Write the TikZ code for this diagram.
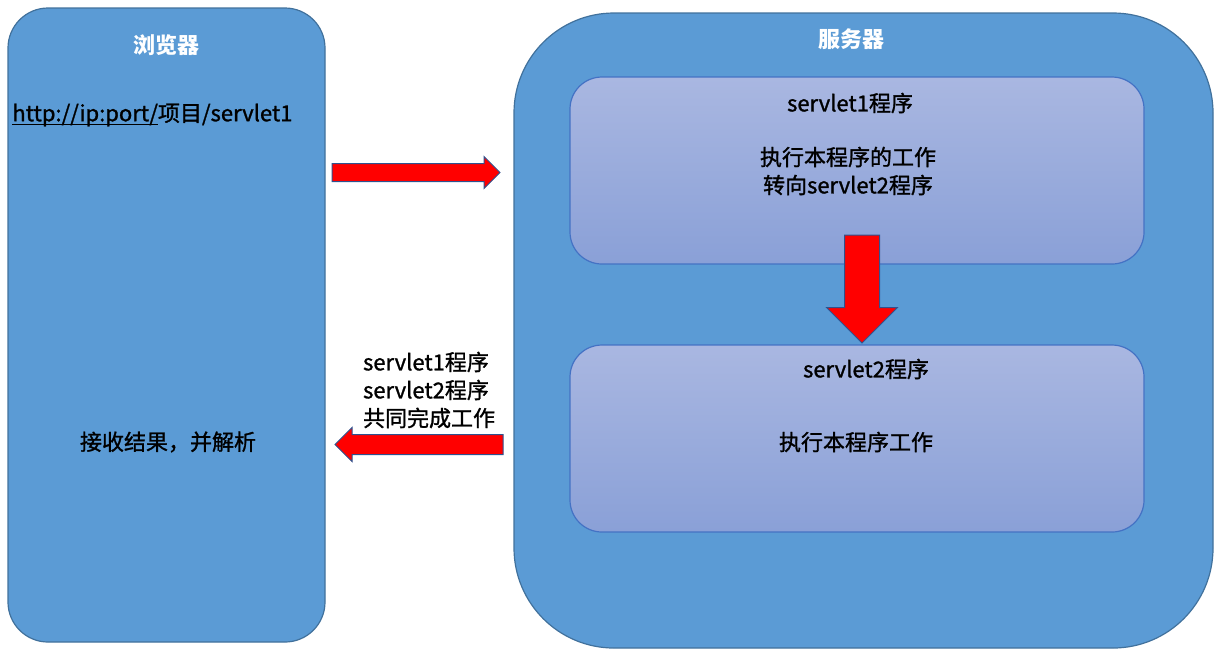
\documentclass[tikz,border=0pt]{standalone}
\usepackage{fontspec}
\setmainfont{Noto Sans CJK SC}[UprightFeatures={FakeBold=1.2}]
\usetikzlibrary{shapes.arrows}
\definecolor{hostfill}{HTML}{5B9BD5}
\definecolor{hostedge}{HTML}{41719C}
\definecolor{progtop}{HTML}{A9B7E1}
\definecolor{progbot}{HTML}{8AA0D7}
\definecolor{progedge}{HTML}{4472C4}
\definecolor{arrowedge}{HTML}{2F528F}
\newcommand\linkline[1]{\setbox0\hbox{#1}\rlap{\rule[-1.8pt]{\wd0}{0.6pt}}#1}
\tikzset{
  hostbox/.style={draw=hostedge, fill=hostfill, line width=0.6pt, inner sep=0pt, outer sep=0pt},
  progbox/.style={draw=progedge, top color=progtop, bottom color=progbot, line width=0.6pt,
    rounded corners=16pt, inner sep=0pt, outer sep=0pt, minimum width=287pt, minimum height=93.5pt},
  bigarrow/.style={single arrow, draw=arrowedge, fill=red, line width=0.5pt, inner xsep=0pt,
    outer sep=0pt, anchor=tail, single arrow head indent=0pt, single arrow tip angle=90},
  hosttitle/.style={text=white, font=\fontsize{11}{13}\selectfont\bfseries},
  bodytext/.style={font=\fontsize{11}{14}\selectfont, align=center}
}
\begin{document}
\begin{tikzpicture}[x=0.5pt, y=-0.5pt]
\useasboundingbox (0,0) rectangle (1219,661);
% 浏览器
\node[hostbox, rounded corners=20pt, minimum width=158.5pt, minimum height=317pt] (browser) at (166.5,325) {};
\node[hosttitle] (browsertitle) at (166,45) {浏览器};
\node[bodytext, anchor=west, inner sep=0pt] (url) at (12,115) {\linkline{http://ip:port/}项目/servlet1};
\node[bodytext] (result) at (168,442) {接收结果，并解析};
% 服务器
\node[hostbox, rounded corners=50pt, minimum width=349.5pt, minimum height=317.5pt] (server) at (863.5,330.5) {};
\node[hosttitle] (servertitle) at (851,39) {服务器};
% 两个servlet程序
\node[progbox] (prog1) at (857,170.5) {};
\node[progbox] (prog2) at (857,438.5) {};
\node[bodytext] (prog1title) at (850,103) {servlet1程序};
\node[bodytext] (prog1body) at (848,171) {执行本程序的工作\\转向servlet2程序};
\node[bodytext] (prog2title) at (866,369) {servlet2程序};
\node[bodytext] (prog2body) at (856,442) {执行本程序工作};
% 箭头
\node[bigarrow, inner ysep=4.25pt, minimum height=84pt, single arrow head extend=3.5pt] (request) at (332,172.5) {};
\node[bigarrow, rotate=180, inner ysep=4.75pt, minimum height=84pt, single arrow head extend=3.5pt] (response) at (503,444.5) {};
\node[bigarrow, rotate=-90, inner ysep=8.5pt, minimum height=54pt, single arrow head extend=9pt] (forward) at (862,235) {};
\node[bodytext, align=left, anchor=west] (together) at (356,390) {servlet1程序\\servlet2程序\\共同完成工作};
\end{tikzpicture}
\end{document}
